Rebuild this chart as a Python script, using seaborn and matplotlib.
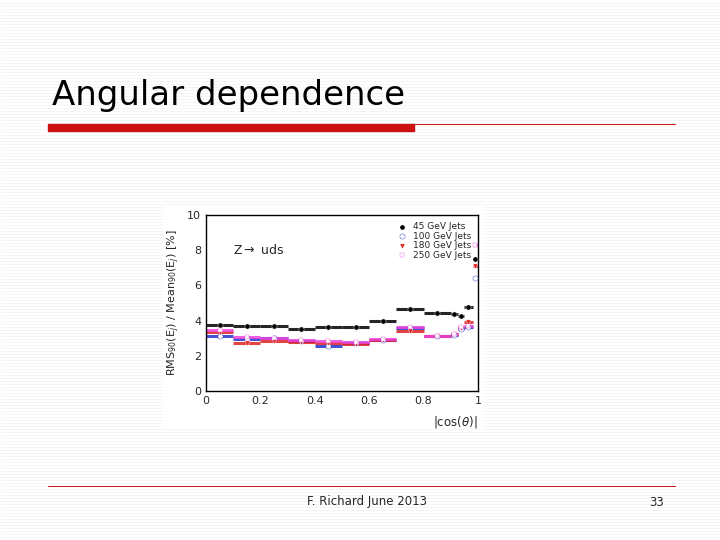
import matplotlib
matplotlib.use("Agg")
import matplotlib.pyplot as plt
import seaborn as sns
import numpy as np
import pandas as pd

edges = [0, 0.1, 0.2, 0.3, 0.4, 0.5, 0.6, 0.7, 0.8, 0.9, 0.925, 0.95, 0.98, 1.0]
jets = ["45 GeV Jets", "100 GeV Jets", "180 GeV Jets", "250 GeV Jets"]
v45 = [3.75, 3.7, 3.7, 3.5, 3.65, 3.65, 3.95, 4.65, 4.45, 4.4, 4.25, 4.75, 7.5]
v100 = [3.15, 2.95, 3.0, 2.85, 2.55, 2.75, 2.9, 3.6, 3.15, 3.2, 3.55, 3.65, 6.4]
v180 = [3.35, 2.75, 2.85, 2.8, 2.75, 2.65, 2.9, 3.4, 3.15, 3.25, 3.6, 3.9, 7.1]
v250 = [3.45, 3.05, 3.0, 2.9, 2.85, 2.8, 2.95, 3.65, 3.15, 3.25, 3.65, 3.7, 8.3]

sns.set_style("white")
fig = plt.figure(figsize=(7.2, 5.4), dpi=100)
fig.patch.set_facecolor("white")
# slide stripes
for y in np.arange(0, 1, 3/540):
    fig.add_artist(plt.Line2D([0, 1], [y, y], color="#f4f4f4", lw=0.6, zorder=0.1))

fig.text(52/720, 1-95/540, "Angular dependence", fontsize=24.5, va="center", ha="left", color="black", zorder=5)
fig.add_artist(plt.Rectangle((48/720, 1-131/540), 366/720, 7/540, color="#cc1111", zorder=5))
fig.add_artist(plt.Line2D([414/720, 675/720], [1-124/540]*2, color="#cc1111", lw=0.7, zorder=5))
fig.add_artist(plt.Line2D([48/720, 675/720], [1-486/540]*2, color="#cc1111", lw=0.7, zorder=5))
fig.text(367/720, 1-502/540, "F. Richard June 2013", fontsize=8.5, ha="center", va="center")
fig.text(657/720, 1-502/540, "33", fontsize=8.5, ha="center", va="center")

fig.add_artist(plt.Rectangle((163/720, 1-428/540), 320/720, 222/540, color="white", zorder=0.5))
ax = fig.add_axes([206/720, 1-391/540, 272/720, 176/540])
ax.set_zorder(2)
e = np.array(edges)
centers = (e[:-1] + e[1:]) / 2
half = (e[1:] - e[:-1]) / 2
rows = []
for name, vals in zip(jets, [v45, v100, v180, v250]):
    for c, v in zip(centers, vals):
        rows.append({"x": c, "y": v, "jet": name})
df = pd.DataFrame(rows)
colors = {"45 GeV Jets": "black", "100 GeV Jets": "#2233cc", "180 GeV Jets": "#dd2222", "250 GeV Jets": "#ee44dd"}
for name, vals in zip(jets, [v45, v100, v180, v250]):
    ax.errorbar(centers, vals, xerr=half, fmt="none", ecolor=colors[name], elinewidth=2.2, alpha=0.85)
sns.scatterplot(data=df[df.jet == "45 GeV Jets"], x="x", y="y", color="black", s=14, ax=ax, label="45 GeV Jets", zorder=3)
sns.scatterplot(data=df[df.jet == "100 GeV Jets"], x="x", y="y", facecolor="white", edgecolor="#2233cc", s=14, ax=ax, label="100 GeV Jets", zorder=3)
sns.scatterplot(data=df[df.jet == "180 GeV Jets"], x="x", y="y", color="#dd2222", marker="v", s=14, ax=ax, label="180 GeV Jets", zorder=3)
sns.scatterplot(data=df[df.jet == "250 GeV Jets"], x="x", y="y", facecolor="white", edgecolor="#ee44dd", marker="s", s=12, ax=ax, label="250 GeV Jets", zorder=3)
ax.set_xlim(0, 1)
ax.set_ylim(0, 10)
ax.set_xticks([0, 0.2, 0.4, 0.6, 0.8, 1])
ax.set_xticklabels(["0", "0.2", "0.4", "0.6", "0.8", "1"])
ax.set_yticks([0, 2, 4, 6, 8, 10])
ax.tick_params(labelsize=8, direction="in", length=3)
ax.set_xlabel("")
ax.set_ylabel(r"RMS$_{90}$(E$_j$) / Mean$_{90}$(E$_j$) [%]", fontsize=8)
ax.text(1.0, -0.13, r"|cos($\theta$)|", transform=ax.transAxes, ha="right", va="top", fontsize=8.5)
ax.text(0.1, 0.78, r"Z$\rightarrow$ uds", transform=ax.transAxes, fontsize=9)
for s in ax.spines.values():
    s.set_color("black"); s.set_linewidth(1)
ax.legend(loc="upper right", fontsize=6.5, frameon=False, handletextpad=0.2, labelspacing=0.05, borderpad=0.3)
fig.savefig("out.png", dpi=100)
